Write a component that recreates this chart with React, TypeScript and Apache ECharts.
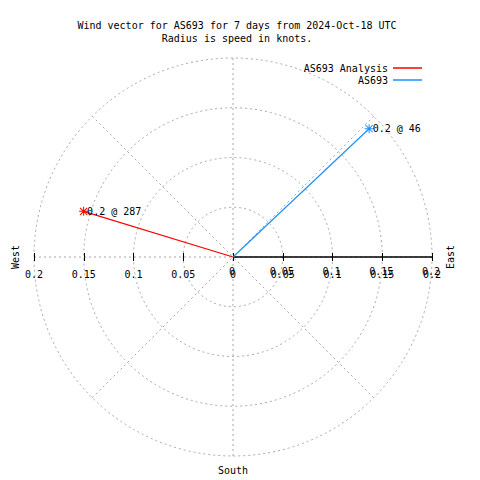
import React, { useEffect, useRef } from "react";
import * as echarts from "echarts";

const titleLines = [
  "Wind vector for AS693 for 7 days from 2024-Oct-18 UTC",
  "Radius is speed in knots.",
];
const seriesNames = ["AS693 Analysis", "AS693"];
const speeds = [0.157, 0.188];
const directions = [287, 46.7];
const seriesColors = ["#ff0000", "#1e90ff"];
const radiusMax = 0.2;
const radiusStep = 0.05;
const axisLineEnds = [0, 0.2];
const compassLabels = ["West", "East", "South"];

const FONT = "DejaVu Sans Mono";
const GRAY = "#a8a8a8";
const STAR =
  "path://M4,0h1v9h-1z M0,4h9v1h-9z M0.6,1.3 L1.3,0.6 L8.4,7.7 L7.7,8.4Z M7.7,0.6 L8.4,1.3 L1.3,8.4 L0.6,7.7Z";

const fmt = (v: number) => String(Math.round(Math.abs(v) * 100) / 100);

export default function App() {
  const ref = useRef<HTMLDivElement>(null);
  useEffect(() => {
    if (!ref.current) return;
    const chart = echarts.init(ref.current, null, { renderer: "svg" });
    const cx = 233;
    const cy = 257;
    const R = 199;
    const vectorSeries = seriesNames.map((name, i) => ({
      name,
      type: "line",
      coordinateSystem: "polar",
      polarIndex: 0,
      z: 5,
      color: seriesColors[i],
      lineStyle: { color: seriesColors[i], width: 1.2 },
      itemStyle: { color: seriesColors[i] },
      symbol: STAR,
      symbolSize: 9,
      data: [
        { value: [0, directions[i]], symbol: "none" },
        {
          value: [speeds[i], directions[i]],
          label: {
            show: true,
            position: "right",
            distance: -1,
            formatter: `${speeds[i].toFixed(1)} @ ${Math.trunc(directions[i])}`,
            fontFamily: FONT,
            fontSize: 10,
            color: "#000",
          },
        },
      ],
    }));
    const axisCommon = {
      type: "value",
      min: -radiusMax,
      max: radiusMax,
      interval: radiusStep,
      position: "bottom",
      offset: -R,
      splitLine: { show: false },
    };
    chart.setOption({
      animation: false,
      backgroundColor: "#fff",
      title: {
        text: titleLines.join("\n"),
        left: 232,
        top: 14,
        textAlign: "center",
        textStyle: {
          fontFamily: FONT,
          fontSize: 10,
          fontWeight: "normal",
          lineHeight: 13,
          color: "#000",
        },
      },
      legend: {
        data: seriesNames.map((n) => ({ name: n, icon: "rect" })),
        orient: "vertical",
        align: "right",
        right: 53,
        top: 57,
        itemGap: 0,
        itemWidth: 29,
        itemHeight: 1.5,
        textStyle: { fontFamily: FONT, fontSize: 10, color: "#000", lineHeight: 12 },
      },
      polar: { center: [cx, cy], radius: R },
      angleAxis: {
        type: "value",
        min: 0,
        max: 360,
        interval: 45,
        startAngle: 90,
        clockwise: true,
        axisLine: { show: false },
        axisTick: { show: false },
        axisLabel: { show: false },
        splitLine: { show: true, lineStyle: { color: GRAY, type: [2, 3], width: 1 } },
      },
      radiusAxis: {
        type: "value",
        min: 0,
        max: radiusMax,
        interval: radiusStep,
        axisLine: { show: false },
        axisTick: { show: false },
        axisLabel: { show: false },
        splitLine: { show: true, lineStyle: { color: GRAY, type: [2, 3], width: 1 } },
      },
      grid: { left: cx - R, top: cy - R, width: 2 * R, height: 2 * R },
      xAxis: [
        {
          ...axisCommon,
          axisLine: { show: true, onZero: false, lineStyle: { opacity: 0 } },
          axisTick: { show: true, length: 4, lineStyle: { color: "#000", width: 1 } },
          axisLabel: {
            show: true,
            margin: 12,
            formatter: (v: number) => fmt(v),
            fontFamily: FONT,
            fontSize: 10,
            color: "#000",
            showMinLabel: true,
            showMaxLabel: true,
          },
        },
        {
          ...axisCommon,
          axisLine: { show: true, onZero: false, lineStyle: { opacity: 0 } },
          axisTick: { show: true, inside: true, length: 4, lineStyle: { color: "#000", width: 1 } },
          axisLabel: {
            show: true,
            margin: 9,
            padding: [0, 2, 0, 0],
            formatter: (v: number) => (v >= 0 ? fmt(v) : ""),
            fontFamily: FONT,
            fontSize: 10,
            color: "#000",
            showMinLabel: true,
            showMaxLabel: true,
          },
        },
      ],
      yAxis: {
        type: "value",
        min: -radiusMax,
        max: radiusMax,
        show: false,
      },
      series: [
        {
          name: "axisline",
          type: "line",
          xAxisIndex: 0,
          yAxisIndex: 0,
          silent: true,
          symbol: "none",
          z: 3,
          lineStyle: { color: "#000", width: 1.5 },
          data: axisLineEnds.map((x) => [x, 0]),
        },
        ...vectorSeries,
      ],
      graphic: [
        {
          type: "text",
          x: 15,
          y: cy,
          rotation: Math.PI / 2,
          style: {
            text: compassLabels[0],
            fontFamily: FONT,
            fontSize: 10,
            fill: "#000",
            textAlign: "center",
            textVerticalAlign: "middle",
          },
        },
        {
          type: "text",
          x: 450,
          y: cy,
          rotation: Math.PI / 2,
          style: {
            text: compassLabels[1],
            fontFamily: FONT,
            fontSize: 10,
            fill: "#000",
            textAlign: "center",
            textVerticalAlign: "middle",
          },
        },
        {
          type: "text",
          x: cx,
          y: 470,
          style: {
            text: compassLabels[2],
            fontFamily: FONT,
            fontSize: 10,
            fill: "#000",
            textAlign: "center",
            textVerticalAlign: "middle",
          },
        },
      ],
    });
    return () => chart.dispose();
  }, []);
  return <div ref={ref} style={{ width: 480, height: 480, position: "absolute", left: 0, top: 0 }} />;
}
